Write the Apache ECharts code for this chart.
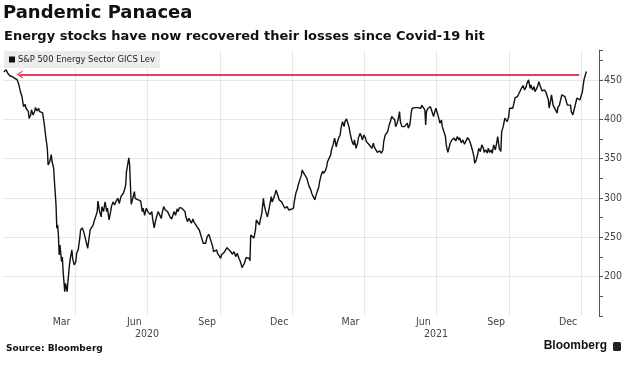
<!DOCTYPE html>
<html><head><meta charset="utf-8">
<script src="https://cdn.jsdelivr.net/npm/echarts@6/dist/echarts.min.js"></script>
<style>html,body{margin:0;padding:0;background:#fff}#c{width:632px;height:390px}</style>
</head><body><div id="c"></div>
<script>
const seriesName = 'S&P 500 Energy Sector GICS Lev';
const titleText = 'Pandemic Panacea';
const subtitleText = 'Energy stocks have now recovered their losses since Covid-19 hit';
const sourceText = 'Source: Bloomberg';
const brandText = 'Bloomberg';

const dates2020 = ['2020-01-02','2020-01-05','2020-01-07','2020-01-10','2020-01-13','2020-01-16','2020-01-19','2020-01-21','2020-01-23','2020-01-25','2020-01-26','2020-01-27','2020-01-29','2020-01-30','2020-02-02','2020-02-03','2020-02-05','2020-02-06','2020-02-08','2020-02-10','2020-02-11','2020-02-13','2020-02-15','2020-02-16','2020-02-18','2020-02-20','2020-02-22','2020-02-24','2020-02-26','2020-02-27','2020-02-29','2020-03-02','2020-03-03','2020-03-05','2020-03-06','2020-03-08','2020-03-09','2020-03-10','2020-03-11','2020-03-12','2020-03-13','2020-03-15','2020-03-16','2020-03-17','2020-03-19','2020-03-20','2020-03-22','2020-03-23','2020-03-25','2020-03-26','2020-03-28','2020-03-29','2020-03-31','2020-04-02','2020-04-03','2020-04-05','2020-04-07','2020-04-08','2020-04-10','2020-04-12','2020-04-14','2020-04-15','2020-04-17','2020-04-19','2020-04-20','2020-04-22','2020-04-24','2020-04-25','2020-04-27','2020-04-29','2020-04-30','2020-05-02','2020-05-04','2020-05-05','2020-05-07','2020-05-09','2020-05-11','2020-05-12','2020-05-14','2020-05-16','2020-05-17','2020-05-19','2020-05-21','2020-05-23','2020-05-25','2020-05-27','2020-05-29','2020-06-01','2020-06-03','2020-06-04','2020-06-05','2020-06-08','2020-06-09','2020-06-10','2020-06-11','2020-06-13','2020-06-15','2020-06-16','2020-06-18','2020-06-20','2020-06-21','2020-06-23','2020-06-25','2020-06-26','2020-06-28','2020-06-30','2020-07-02','2020-07-03','2020-07-05','2020-07-07','2020-07-08','2020-07-10','2020-07-12','2020-07-13','2020-07-15','2020-07-17','2020-07-19','2020-07-20','2020-07-22','2020-07-24','2020-07-25','2020-07-27','2020-07-29','2020-07-30','2020-08-01','2020-08-03','2020-08-04','2020-08-06','2020-08-08','2020-08-09','2020-08-11','2020-08-13','2020-08-14','2020-08-16','2020-08-18','2020-08-19','2020-08-21','2020-08-23','2020-08-24','2020-08-26','2020-08-28','2020-08-29','2020-08-31','2020-09-02','2020-09-03','2020-09-05','2020-09-07','2020-09-08','2020-09-10','2020-09-12','2020-09-13','2020-09-15','2020-09-17','2020-09-18','2020-09-20','2020-09-22','2020-09-23','2020-09-25','2020-09-27','2020-09-28','2020-09-30','2020-10-02','2020-10-03','2020-10-05','2020-10-07','2020-10-08','2020-10-10','2020-10-12','2020-10-14','2020-10-15','2020-10-17','2020-10-19','2020-10-21','2020-10-23','2020-10-25','2020-10-27','2020-10-29','2020-11-01','2020-11-03','2020-11-05','2020-11-07','2020-11-08','2020-11-09','2020-11-11','2020-11-13','2020-11-15','2020-11-16','2020-11-18','2020-11-20','2020-11-21','2020-11-23','2020-11-25','2020-11-26','2020-11-28','2020-11-30','2020-12-01','2020-12-03','2020-12-05','2020-12-06','2020-12-08','2020-12-10','2020-12-11','2020-12-13','2020-12-15','2020-12-16','2020-12-18','2020-12-20','2020-12-22','2020-12-23','2020-12-25','2020-12-27','2020-12-28','2020-12-30'];
const values2020 = [460,463,458.5,455,454,452,450,444,435,429,422,416,419,414,410,401,405.5,412,405.5,410,415,410.6,414,410,412,408,395,378,363,342,346,355,346,338,321,291,261.5,266,253,227.5,240,219,225,206,181,191.5,181,193.6,215,223,234,223,215,219,229.7,234,249,259,262,257,255,244.5,236,251,259,261.5,265.7,270,276,282.6,296,282.6,276,289,282.6,295,282.6,287,272,282.6,289,295,291,296,299.6,293,301.7,306,312,316.5,333.5,351,342,316.5,292,299.6,308,299.6,301.7,297.5,299.6,296,282.6,287,278,287,282.6,284.7,279,282.6,274,262,272,276,282.6,280.5,274,280.5,289,284.7,287,282.6,284.7,276,273.3,279,282.6,278,286,282.6,287.7,290,287,287.7,282.6,276,270,274,276,267.8,273.3,270,266.6,263.5,261.5,259.3,257,249,242.4,244.5,242.4,250.8,253.8,253,244.5,238,231.7,229.7,234,229.7,226.7,223.3,227.5,225.4,231.7,234,236.8,235,232.6,234,228.5,231.7,225.4,229.7,223.3,219,211.4,217,224,224,223.3,220,253,255,249,259.3,272,270,265.7,272,280.5,299.6,291,282.6,276,280.5,291,301.7,295,299.6,306,310,304,297.5,299.6,295,291,287,284.7,289,284.7,287,285.6];

const dates2021 = ['2021-01-02','2021-01-03','2021-01-05','2021-01-07','2021-01-08','2021-01-10','2021-01-12','2021-01-13','2021-01-15','2021-01-17','2021-01-19','2021-01-20','2021-01-22','2021-01-24','2021-01-25','2021-01-27','2021-01-29','2021-01-30','2021-02-01','2021-02-03','2021-02-04','2021-02-06','2021-02-08','2021-02-09','2021-02-11','2021-02-13','2021-02-14','2021-02-16','2021-02-18','2021-02-19','2021-02-21','2021-02-23','2021-02-25','2021-02-26','2021-02-28','2021-03-02','2021-03-03','2021-03-05','2021-03-07','2021-03-08','2021-03-10','2021-03-12','2021-03-13','2021-03-15','2021-03-17','2021-03-19','2021-03-20','2021-03-22','2021-03-24','2021-03-25','2021-03-27','2021-03-29','2021-03-30','2021-04-01','2021-04-03','2021-04-04','2021-04-06','2021-04-08','2021-04-09','2021-04-11','2021-04-13','2021-04-14','2021-04-16','2021-04-18','2021-04-19','2021-04-21','2021-04-23','2021-04-25','2021-04-26','2021-04-28','2021-04-30','2021-05-01','2021-05-03','2021-05-05','2021-05-06','2021-05-08','2021-05-10','2021-05-11','2021-05-13','2021-05-15','2021-05-16','2021-05-17','2021-05-19','2021-05-21','2021-05-22','2021-05-24','2021-05-26','2021-05-27','2021-05-29','2021-05-31','2021-06-01','2021-06-03','2021-06-05','2021-06-06','2021-06-08','2021-06-10','2021-06-12','2021-06-13','2021-06-15','2021-06-17','2021-06-18','2021-06-19','2021-06-21','2021-06-23','2021-06-24','2021-06-26','2021-06-28','2021-06-29','2021-07-01','2021-07-03','2021-07-04','2021-07-06','2021-07-08','2021-07-09','2021-07-11','2021-07-13','2021-07-14','2021-07-16','2021-07-18','2021-07-19','2021-07-21','2021-07-23','2021-07-24','2021-07-26','2021-07-28','2021-07-30','2021-07-31','2021-08-02','2021-08-04','2021-08-06','2021-08-08','2021-08-10','2021-08-12','2021-08-14','2021-08-16','2021-08-18','2021-08-19','2021-08-21','2021-08-23','2021-08-24','2021-08-26','2021-08-28','2021-08-30','2021-08-31','2021-09-02','2021-09-04','2021-09-05','2021-09-07','2021-09-09','2021-09-10','2021-09-12','2021-09-14','2021-09-16','2021-09-17','2021-09-19','2021-09-21','2021-09-22','2021-09-24','2021-09-26','2021-09-27','2021-09-29','2021-10-01','2021-10-02','2021-10-04','2021-10-06','2021-10-07','2021-10-09','2021-10-11','2021-10-12','2021-10-14','2021-10-16','2021-10-17','2021-10-19','2021-10-21','2021-10-23','2021-10-24','2021-10-26','2021-10-28','2021-10-29','2021-10-31','2021-11-02','2021-11-03','2021-11-05','2021-11-07','2021-11-08','2021-11-10','2021-11-12','2021-11-13','2021-11-15','2021-11-17','2021-11-18','2021-11-20','2021-11-21','2021-11-23','2021-11-24','2021-11-26','2021-11-27','2021-11-29','2021-12-01','2021-12-02','2021-12-04','2021-12-06','2021-12-07','2021-12-09','2021-12-11','2021-12-13','2021-12-14','2021-12-16','2021-12-18','2021-12-19','2021-12-21','2021-12-23','2021-12-24','2021-12-26','2021-12-28','2021-12-30','2021-12-31'];
const values2021 = [287,295,306,312,316.5,323,329,335.6,331.4,329,325,320.8,314,310,306,301.7,297.5,301.7,308,314,320.8,329,334,331.4,334,339.8,346,344,354.7,361,367.4,376,365,369.5,376,380,388.6,397,390.6,397,400.4,399,390.6,380,371.6,367.4,373.7,363,369.5,376,382,378,373.7,380,376,371.6,370.8,367.4,365,363,369.5,365,363,358,355.6,359.7,356.8,361,371.6,380,378,384.3,392.8,399,403.4,405.5,399,390.6,395,403.4,409.7,397,390.6,392.8,390.6,388.6,395,388.6,392.8,409.7,414,416,414.8,417.3,414.8,416,414,418,419,412,392.8,409.7,414,412,416,418,403.4,407.6,414,412,403.4,395,399,390.6,392.8,378,367.4,358,358.9,369.5,373.7,371.6,376,372.5,378,373.7,376.5,370,373.7,368.3,372.5,376.7,373.7,368.3,361,352.5,344,348.3,356.8,363,359,367.4,363,358,361,356.8,363,358,361,356.8,367.4,361,371.6,378,363,359,384.3,390.6,401.3,399,397,403.4,414,416,414,418,427.5,426.7,428.8,433,435,439.4,442.8,437.3,441.5,445.8,450,439.4,443.6,437.3,441.5,435,438.5,443.6,447.8,441.5,436,438.5,437.3,434.3,433,424.6,414,424.6,431,418,419,412,407.6,414.8,418,426.7,431,430,428.8,421.6,418,416,418,409.7,405.5,414,418,426.7,427.5,424.6,422.4];

const dates2022 = ['2022-01-02','2022-01-04','2022-01-05','2022-01-07'];
const values2022 = [435,450,452,460.6];

const axisStart = '2020-01-01';
const axisEnd = '2022-01-23';
const monthLabels = {'03-15':'Mar','06-15':'Jun','09-15':'Sep','12-15':'Dec'};
const gridMonthDays = ['01-01','04-01','07-01','10-01'];
const yearLabelDay = '07-01';
const yTicks = [200, 250, 300, 350, 400, 450];
const arrowFrom = '2020-01-22';
const arrowTo = '2021-12-29';
const arrowLevel = 457;

// build daily category axis
const days = [];
(function(){
  const s = Date.parse(axisStart + 'T00:00:00Z'), e = Date.parse(axisEnd + 'T00:00:00Z');
  for (let t = s; t <= e; t += 86400000) days.push(new Date(t).toISOString().slice(0,10));
})();
const idx = {};
days.forEach((d,i)=>{ idx[d] = i; });

const allDates = dates2020.concat(dates2021, dates2022);
const allValues = values2020.concat(values2021, values2022);
const lineData = allDates.map((d,i)=>[idx[d], allValues[i]]).filter(p=>p[0] !== undefined);

const condensed = "'DejaVu Sans Condensed', 'DejaVu Sans', sans-serif";
const chevron = 'path://M0,10 L5,0 L10,10 L8.2,10 L5,3.6 L1.8,10 Z';

const chart = echarts.init(document.getElementById('c'), null, {renderer:'canvas'});
chart.setOption({
  animation: false,
  backgroundColor: '#ffffff',
  title: [
    {text: titleText, left: 3, top: 4, padding: 0,
     textStyle: {fontFamily: 'DejaVu Sans', fontWeight: 'bold', fontSize: 18, color: '#111'}},
    {text: subtitleText, left: 4, top: 30, padding: 0,
     textStyle: {fontFamily: 'DejaVu Sans', fontWeight: 'bold', fontSize: 13, color: '#111'}},
    {text: sourceText, left: 6, top: 344, padding: 0,
     textStyle: {fontFamily: 'DejaVu Sans', fontWeight: 'bold', fontSize: 9, color: '#111'}},
    {text: brandText, right: 25, top: 340, padding: 0,
     textStyle: {fontFamily: 'Liberation Sans', fontWeight: 'bold', fontSize: 12, color: '#111'}}
  ],
  graphic: [
    {type: 'rect', right: 11, top: 342, shape: {width: 8, height: 9, r: 1.5}, style: {fill: '#222'}}
  ],
  legend: {
    show: true, left: 4, top: 51, padding: [4, 5, 4, 5],
    backgroundColor: '#ececec', icon: 'rect', itemWidth: 6, itemHeight: 6, itemGap: 3,
    textStyle: {fontFamily: condensed, fontSize: 9.3, color: '#222', padding: [0,0,0,-2]},
    data: [seriesName]
  },
  grid: {left: 3, right: 33, top: 50, bottom: 74, containLabel: false},
  xAxis: [
    {
      type: 'category', data: days, boundaryGap: false,
      axisLine: {show: false}, axisTick: {show: false},
      splitLine: {show: true, interval: (i, v) => i > 0 && gridMonthDays.indexOf(String(v).slice(5)) >= 0,
                  lineStyle: {color: '#e6e6e6', width: 1}},
      axisLabel: {show: true, interval: (i, v) => monthLabels[String(v).slice(5)] !== undefined,
                  formatter: v => monthLabels[String(v).slice(5)] || '',
                  margin: 1, fontFamily: condensed, fontSize: 10.5, color: '#444'}
    },
    {
      type: 'category', data: days, boundaryGap: false, position: 'bottom', offset: 12,
      axisLine: {show: false}, axisTick: {show: false}, splitLine: {show: false},
      axisLabel: {show: true, interval: (i, v) => String(v).slice(5) === yearLabelDay,
                  formatter: v => String(v).slice(0,4),
                  margin: 1, fontFamily: condensed, fontSize: 10.5, color: '#444'}
    }
  ],
  yAxis: {
    type: 'value', position: 'right', min: 150, max: 488, interval: 50,
    axisLine: {show: true, lineStyle: {color: '#555', width: 1}},
    axisTick: {show: true, inside: false, length: 4, lineStyle: {color: '#555'}},
    minorTick: {show: true, splitNumber: 2, length: 4, lineStyle: {color: '#555'}},
    splitLine: {show: true, lineStyle: {color: ['rgba(0,0,0,0)','#e6e6e6','#e6e6e6','#e6e6e6','#e6e6e6','#e6e6e6','#e6e6e6','rgba(0,0,0,0)'], width: 1}},
    axisLabel: {show: true, margin: 5, fontFamily: condensed, fontSize: 10.5, color: '#444',
                formatter: v => yTicks.indexOf(v) >= 0 ? String(v) : ''}
  },
  series: [{
    name: seriesName, type: 'line', xAxisIndex: 0, data: lineData,
    showSymbol: false, symbol: 'none', color: '#111',
    lineStyle: {color: '#111', width: 1.4},
    markLine: {
      silent: true, symbol: [chevron, 'none'], symbolSize: [8, 6],
      label: {show: false},
      lineStyle: {color: '#e0435f', width: 2, type: 'solid'},
      emphasis: {disabled: true},
      data: [[{coord: [idx[arrowFrom], arrowLevel]}, {coord: [idx[arrowTo], arrowLevel]}]]
    }
  }]
});
</script>
</body></html>
